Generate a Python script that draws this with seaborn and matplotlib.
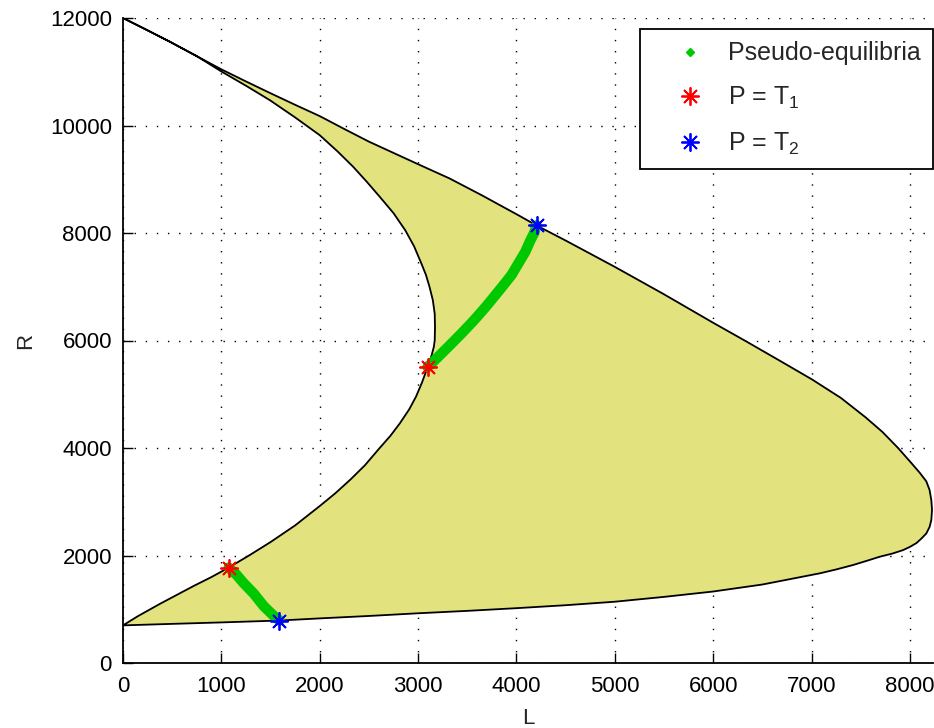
import matplotlib
matplotlib.use('Agg')
import matplotlib.pyplot as plt
import seaborn as sns

# outer (upper + right tip + bottom) boundary of the shaded region
upper_L = [0, 250, 480, 750, 1000, 1250, 1500, 1750, 2000, 2250, 2500, 2750, 3000,
           3320, 3650, 4020, 4200, 4500, 5000, 5500, 6000, 6320, 6700, 7010, 7300,
           7550, 7720, 7880, 8015, 8100, 8167, 8200, 8218, 8225, 8218, 8200, 8167,
           8120, 8066, 8000, 7930, 7820, 7693, 7560, 7422, 7250, 7083, 6500, 6000,
           5500, 5000, 4500, 4000, 3500, 3000, 2500, 2000, 1590, 1000, 500, 0]
upper_R = [12000, 11770, 11555, 11290, 11045, 10820, 10600, 10385, 10175, 9935, 9700, 9490, 9280,
           9015, 8700, 8330, 8145, 7860, 7370, 6860, 6330, 6000, 5600, 5270, 4930,
           4570, 4300, 4000, 3720, 3540, 3380, 3220, 3030, 2850, 2660, 2530, 2410,
           2320, 2230, 2160, 2100, 2035, 1977, 1900, 1823, 1740, 1668, 1460, 1330,
           1230, 1140, 1075, 1020, 970, 925, 875, 830, 790, 755, 728, 700]
# inner (left, C-shaped) boundary, from bottom to top
inner_L = [0, 150, 375, 550, 715, 900, 1075, 1290, 1500, 1750, 2000, 2160, 2316,
           2460, 2600, 2720, 2815, 2910, 2980, 3040, 3096, 3137, 3160, 3169,
           3172, 3169, 3150, 3116, 3080, 3034, 2960, 2870, 2750, 2612, 2480, 2341,
           2180, 2000, 1750, 1494, 1250, 1000, 750, 480, 250, 0]
inner_R = [700, 870, 1100, 1270, 1430, 1600, 1775, 2010, 2250, 2560, 2920, 3160, 3420,
           3680, 3980, 4230, 4460, 4720, 4960, 5220, 5500, 5720, 5880, 6000,
           6250, 6500, 6750, 7000, 7220, 7430, 7750, 8050, 8370, 8670, 8950, 9230,
           9520, 9820, 10150, 10470, 10740, 11005, 11290, 11555, 11770, 12000]

# pseudo-equilibria branches
pe1_L = [1075, 1150, 1225, 1330, 1430, 1520, 1590]
pe1_R = [1775, 1650, 1490, 1290, 1060, 900, 790]
pe2_L = [3096, 3157, 3300, 3444, 3570, 3690, 3855, 3950, 4019, 4090, 4142, 4180, 4204]
pe2_R = [5506, 5611, 5870, 6136, 6380, 6630, 7000, 7220, 7432, 7650, 7864, 8000, 8142]

t1_L = [1075, 3096]
t1_R = [1775, 5506]
t2_L = [1590, 4204]
t2_R = [790, 8142]

sns.set_style('white')
plt.rcParams['font.family'] = ['Liberation Sans', 'DejaVu Sans']
plt.rcParams['mathtext.default'] = 'regular'

fig = plt.figure(figsize=(9.34, 7.28), dpi=100)
ax = fig.add_axes([123 / 934, 65 / 728, 810 / 934, 645 / 728])

ax.fill(upper_L + inner_L, upper_R + inner_R, facecolor='#e2e27e',
        edgecolor='black', linewidth=1.3, joinstyle='round', zorder=2)

green = '#00c800'
for xs, ys in [(pe1_L, pe1_R), (pe2_L, pe2_R)]:
    sns.lineplot(x=xs, y=ys, sort=False, color=green, linewidth=7.5,
                 solid_capstyle='round', ax=ax, zorder=3)

ast = (8, 2, 0)
ax.plot(pe2_L, pe2_R, ls='none', marker='D', ms=4, color=green,
        label='Pseudo-equilibria', zorder=3)
ax.plot(t1_L, t1_R, ls='none', marker=ast, ms=13, mew=1.3, color='red',
        label='P = T$_1$', zorder=4)
ax.plot(t2_L, t2_R, ls='none', marker=ast, ms=13, mew=1.3, color='blue',
        label='P = T$_2$', zorder=4)

ax.set_xlim(0, 8235)
ax.set_ylim(0, 12000)
ax.set_xticks(range(0, 9000, 1000))
ax.set_yticks(range(0, 14000, 2000))
ax.grid(True, color='black', linestyle=(0, (1, 7)), linewidth=1.0)
ax.set_axisbelow(True)
for s in ['top', 'right']:
    ax.spines[s].set_visible(False)
for s in ['left', 'bottom']:
    ax.spines[s].set_color('black')
    ax.spines[s].set_linewidth(1.3)
ax.tick_params(direction='in', length=7, width=1, colors='black',
               labelsize=16, left=True, bottom=True)
ax.tick_params(axis='x', pad=9)
ax.tick_params(axis='y', pad=8)
ax.set_xlabel('L', fontsize=16, labelpad=8)
ax.set_ylabel('R', fontsize=16, labelpad=10)

leg = ax.legend(loc='upper right', bbox_to_anchor=(1.0, 0.983), fontsize=18,
                frameon=True, fancybox=False, edgecolor='black', framealpha=1,
                labelspacing=0.78, handletextpad=0.0, borderpad=0.5,
                borderaxespad=0.0, handlelength=3.0)
leg.get_frame().set_linewidth(1.3)

fig.savefig('out.png', dpi=100)
